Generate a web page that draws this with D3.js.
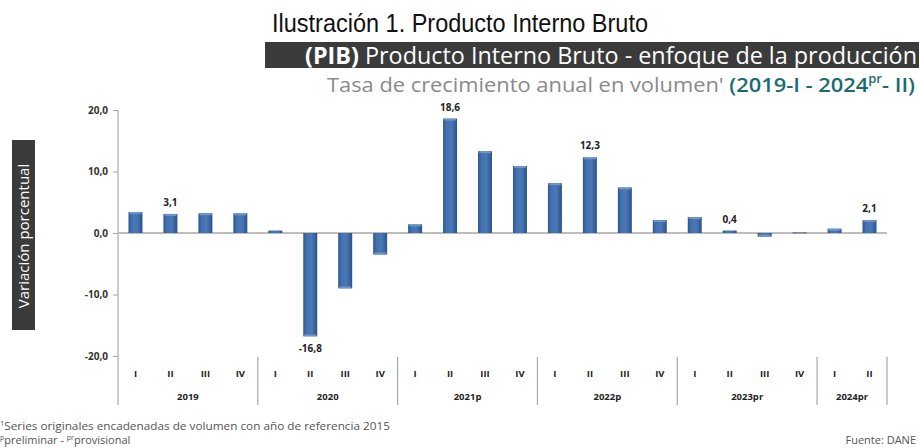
<!DOCTYPE html>
<html>
<head>
<meta charset="utf-8">
<script src="https://cdn.jsdelivr.net/npm/d3@7"></script>
<style>
  html, body { margin: 0; padding: 0; background: #fff; }
  #chart { width: 919px; height: 448px; overflow: hidden; }
  text { font-family: "Open Sans", "DejaVu Sans", sans-serif; }
</style>
</head>
<body>
<div id="chart"></div>
<script>
const years = ["2019", "2020", "2021p", "2022p", "2023pr", "2024pr"];
const quartersPerYear = [4, 4, 4, 4, 4, 2];
const quarters = ["I", "II", "III", "IV", "I", "II", "III", "IV", "I", "II", "III", "IV",
                  "I", "II", "III", "IV", "I", "II", "III", "IV", "I", "II"];
const growth = [3.4, 3.1, 3.2, 3.2, 0.4, -16.8, -9.0, -3.5, 1.4, 18.6, 13.3, 10.9,
                8.1, 12.3, 7.4, 2.1, 2.6, 0.4, -0.6, 0.1, 0.7, 2.1];
const shownLabels = [null, "3,1", null, null, null, "-16,8", null, null, null, "18,6", null, null,
                     null, "12,3", null, null, null, "0,4", null, null, null, "2,1"];
const yTicks = [-20, -10, 0, 10, 20];

function renderChart(selector) {
    const W = 919, H = 448;
    const left = 118, right = 887, top = 110, bottom = 356, axisEnd = 405;

    const svg = d3.select(selector).append("svg")
        .attr("width", W)
        .attr("height", H);

    const defs = svg.append("defs");
    const grad = defs.append("linearGradient")
        .attr("id", "barGrad")
        .attr("x1", "0%").attr("x2", "100%").attr("y1", "0%").attr("y2", "0%");
    grad.append("stop").attr("offset", "0%").attr("stop-color", "#2d5690");
    grad.append("stop").attr("offset", "25%").attr("stop-color", "#4472b0");
    grad.append("stop").attr("offset", "60%").attr("stop-color", "#4a78b6");
    grad.append("stop").attr("offset", "100%").attr("stop-color", "#2b528a");

    const x = d3.scaleBand()
        .domain(d3.range(growth.length))
        .range([left, right])
        .paddingInner(0.6)
        .paddingOuter(0.3);

    const y = d3.scaleLinear()
        .domain([-20, 20])
        .range([bottom, top]);

    const rows = growth.map((v, i) => ({i, v, label: shownLabels[i], q: quarters[i]}));

    // title
    svg.append("text")
        .attr("x", 272).attr("y", 32)
        .style("font-family", "'Liberation Sans Narrow', 'Arial Narrow', 'Liberation Sans', sans-serif")
        .style("font-size", "26px")
        .attr("textLength", 376)
        .attr("lengthAdjust", "spacingAndGlyphs")
        .attr("fill", "#111")
        .text("Ilustración 1. Producto Interno Bruto");

    // dark banner
    svg.append("rect")
        .attr("x", 265).attr("y", 42)
        .attr("width", W - 265).attr("height", 26)
        .attr("fill", "#3b3b3b");
    const banner = svg.append("text")
        .attr("x", 305).attr("y", 64)
        .attr("fill", "#fff")
        .style("font-size", "23px")
        .attr("textLength", 612)
        .attr("lengthAdjust", "spacingAndGlyphs");
    banner.append("tspan").style("font-weight", "bold").text("(PIB)");
    banner.append("tspan").text(" Producto Interno Bruto  - enfoque de la producción");

    // subtitle
    const sub = svg.append("text")
        .attr("x", 327).attr("y", 92)
        .style("font-size", "20px")
        .attr("textLength", 588)
        .attr("lengthAdjust", "spacingAndGlyphs");
    sub.append("tspan").attr("fill", "#8a8a8a").text("Tasa de crecimiento anual en volumen' ");
    sub.append("tspan").attr("fill", "#1b6b73").style("font-weight", "600").text("(2019-I - 2024");
    sub.append("tspan").attr("fill", "#1b6b73").style("font-weight", "600")
        .style("font-size", "12px").attr("dy", -9).text("pr");
    sub.append("tspan").attr("fill", "#1b6b73").style("font-weight", "600")
        .attr("dy", 9).text("- II)");

    // y axis label box
    svg.append("rect")
        .attr("x", 12).attr("y", 140)
        .attr("width", 23).attr("height", 190)
        .attr("fill", "#3b3b3b");
    svg.append("text")
        .attr("transform", "translate(29, 236) rotate(-90)")
        .attr("text-anchor", "middle")
        .attr("fill", "#fff")
        .style("font-size", "15px")
        .text("Variación porcentual");

    // y axis
    svg.append("line")
        .attr("x1", left).attr("x2", left)
        .attr("y1", top).attr("y2", axisEnd)
        .attr("stroke", "#a8a8a8").attr("stroke-width", 1.2);
    const yAxis = svg.append("g")
        .attr("transform", `translate(${left},0)`)
        .call(d3.axisLeft(y).tickValues(yTicks).tickSize(5).tickPadding(5)
            .tickFormat(d => d3.format(".1f")(d).replace(".", ",").replace("−", "-")));
    yAxis.select(".domain").remove();
    yAxis.selectAll(".tick line").attr("stroke", "#a8a8a8");
    yAxis.selectAll(".tick text")
        .attr("fill", "#333")
        .style("font-size", "10px")
        .style("font-weight", "bold")
        .style("font-family", "'Open Sans', sans-serif");

    // zero line
    svg.append("line")
        .attr("x1", left).attr("x2", right)
        .attr("y1", y(0)).attr("y2", y(0))
        .attr("stroke", "#bdbdbd").attr("stroke-width", 2);

    // bars
    svg.selectAll(".bar")
        .data(rows)
        .enter()
        .append("rect")
        .attr("class", "bar")
        .attr("x", d => x(d.i))
        .attr("y", d => y(Math.max(0, d.v)))
        .attr("width", x.bandwidth())
        .attr("height", d => Math.max(1, Math.abs(y(d.v) - y(0))))
        .attr("fill", "url(#barGrad)");

    // top bevel highlight
    svg.selectAll(".bevel")
        .data(rows.filter(d => Math.abs(y(d.v) - y(0)) > 3))
        .enter()
        .append("rect")
        .attr("class", "bevel")
        .attr("x", d => x(d.i) + 1)
        .attr("y", d => d.v >= 0 ? y(d.v) : y(d.v) - 2)
        .attr("width", x.bandwidth() - 2)
        .attr("height", 2)
        .attr("fill", "#6e95c8");

    // value labels
    svg.selectAll(".val")
        .data(rows.filter(d => d.label !== null))
        .enter()
        .append("text")
        .attr("class", "val")
        .attr("x", d => x(d.i) + x.bandwidth() / 2)
        .attr("y", d => d.v >= 0 ? y(d.v) - 8 : y(d.v) + 16)
        .attr("text-anchor", "middle")
        .attr("fill", "#222")
        .style("font-size", "10px")
        .style("font-weight", "bold")
        .text(d => d.label);

    // quarter labels
    svg.selectAll(".qlab")
        .data(rows)
        .enter()
        .append("text")
        .attr("class", "qlab")
        .attr("x", d => x(d.i) + x.bandwidth() / 2)
        .attr("y", 377)
        .attr("text-anchor", "middle")
        .attr("fill", "#222")
        .style("font-size", "9.5px")
        .style("font-weight", "bold")
        .text(d => d.q);

    // year groups and dividers
    const step = x.step();
    const starts = [0];
    quartersPerYear.forEach(n => starts.push(starts[starts.length - 1] + n));
    svg.selectAll(".div")
        .data(starts.slice(1))
        .enter()
        .append("line")
        .attr("class", "div")
        .attr("x1", d => left + d * step).attr("x2", d => left + d * step)
        .attr("y1", bottom + 1).attr("y2", axisEnd)
        .attr("stroke", "#a8a8a8").attr("stroke-width", 1.2);
    svg.selectAll(".ylab")
        .data(years)
        .enter()
        .append("text")
        .attr("class", "ylab")
        .attr("x", (d, i) => left + (starts[i] + quartersPerYear[i] / 2) * step)
        .attr("y", 400)
        .attr("text-anchor", "middle")
        .attr("fill", "#222")
        .style("font-size", "9.5px")
        .style("font-weight", "bold")
        .text(d => d);

    // footnotes
    const f1 = svg.append("text")
        .attr("x", 0).attr("y", 430)
        .attr("fill", "#555")
        .style("font-size", "11px")
        .attr("textLength", 390)
        .attr("lengthAdjust", "spacingAndGlyphs");
    f1.append("tspan").style("font-size", "7px").attr("dy", -4).text("1");
    f1.append("tspan").attr("dy", 4).text("Series originales encadenadas de volumen con año de referencia 2015");
    const f2 = svg.append("text")
        .attr("x", 0).attr("y", 444)
        .attr("fill", "#555")
        .style("font-size", "11px");
    f2.append("tspan").style("font-size", "7px").attr("dy", -4).text("p");
    f2.append("tspan").attr("dy", 4).text("preliminar - ");
    f2.append("tspan").style("font-size", "7px").attr("dy", -4).text("pr");
    f2.append("tspan").attr("dy", 4).text("provisional");
    svg.append("text")
        .attr("x", 916).attr("y", 444)
        .attr("text-anchor", "end")
        .attr("fill", "#555")
        .style("font-size", "11px")
        .text("Fuente: DANE");
}

renderChart("#chart");
</script>
</body>
</html>
